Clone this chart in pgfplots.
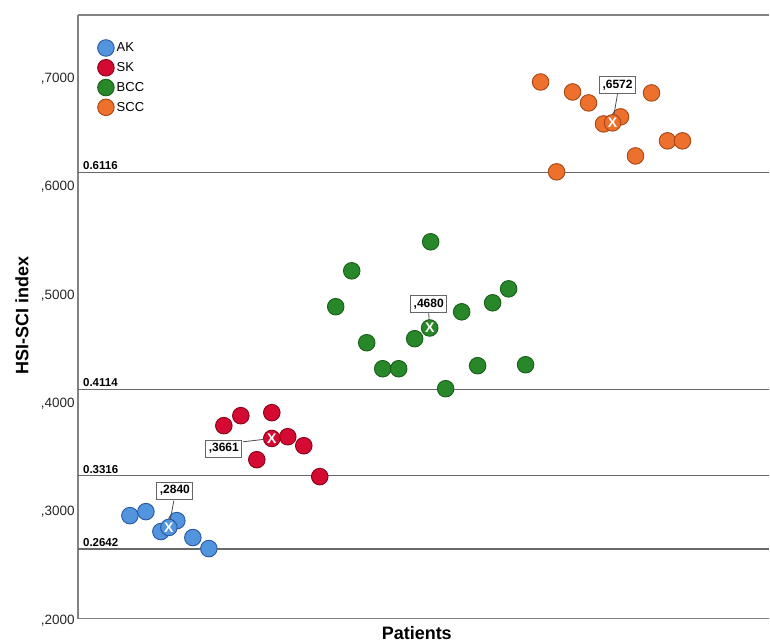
\documentclass[border=0pt]{standalone}
\usepackage{pgfplots}
\pgfplotsset{compat=1.18}
\usepackage{fontspec}
\setmainfont{Liberation Sans}
\definecolor{AKFill}{RGB}{82,148,222}
\definecolor{AKEdge}{RGB}{40,88,158}
\definecolor{SKFill}{RGB}{213,10,50}
\definecolor{SKEdge}{RGB}{135,0,25}
\definecolor{BCCFill}{RGB}{40,135,40}
\definecolor{BCCEdge}{RGB}{25,95,25}
\definecolor{SCCFill}{RGB}{237,112,45}
\definecolor{SCCEdge}{RGB}{165,70,20}
\definecolor{refline}{RGB}{105,105,105}
\definecolor{axline}{RGB}{130,130,130}
\pgfplotsset{
  grp/.style={only marks, mark=*, mark size=8.3pt,
    mark options={draw=#1Edge, fill=#1Fill, line width=0.9pt, solid},
    legend image code/.code={\draw[##1] plot coordinates {(0pt,0pt)};}},
}
\begin{document}
\begin{tikzpicture}
\begin{axis}[
  set layers,
  scale only axis, width=692pt, height=604pt,
  at={(0,0)}, anchor=south west,
  xmin=78, xmax=770, ymin=0.2, ymax=0.7567,
  axis x line=box, axis y line=left,
  axis line style={-, draw=axline, line width=1.2pt},
  xtick=\empty,
  ytick={0.2,0.3,0.4,0.5,0.6,0.7},
  yticklabels={{,2000},{,3000},{,4000},{,5000},{,6000},{,7000}},
  major tick length=0pt,
  yticklabel style={font=\fontsize{13.5}{16}\selectfont, inner sep=0pt, xshift=-3pt, yshift=-2pt, text=black!85},
  xlabel={Patients},
  ylabel={HSI-SCI index},
  xlabel style={at={(axis description cs:0.49,0)}, anchor=center, yshift=-14.5pt, font=\fontsize{18}{20}\selectfont\bfseries},
  ylabel style={at={(axis description cs:-0.0809,0.502)}, anchor=center, rotate=0, font=\fontsize{18}{20}\selectfont\bfseries},
  legend style={draw=none, fill=none, at={(axis description cs:0.0282,0.9594)}, anchor=north west,
    font=\fontsize{13}{15}\selectfont, inner sep=0pt, row sep=3.2pt, column sep=0pt,
    nodes={inner sep=1pt, inner xsep=2.5pt}},
  legend cell align=left,
  clip=false,
]
% reference lines
\addplot[refline, line width=1.2pt, forget plot] coordinates {(78,0.6116) (770,0.6116)};
\addplot[refline, line width=1.2pt, forget plot] coordinates {(78,0.4114) (770,0.4114)};
\addplot[refline, line width=1.2pt, forget plot] coordinates {(78,0.3316) (770,0.3316)};
\addplot[refline, line width=1.2pt, forget plot] coordinates {(78,0.2642) (770,0.2642)};
\node[anchor=south west, inner sep=0pt, yshift=2.5pt, font=\fontsize{11.5}{13}\selectfont\bfseries] at (axis cs:83,0.6116) {0.6116};
\node[anchor=south west, inner sep=0pt, yshift=2.5pt, font=\fontsize{11.5}{13}\selectfont\bfseries] at (axis cs:83,0.4114) {0.4114};
\node[anchor=south west, inner sep=0pt, yshift=2.5pt, font=\fontsize{11.5}{13}\selectfont\bfseries] at (axis cs:83,0.3316) {0.3316};
\node[anchor=south west, inner sep=0pt, yshift=2.5pt, font=\fontsize{11.5}{13}\selectfont\bfseries] at (axis cs:83,0.2642) {0.2642};
% groups
\addplot[grp=AK] coordinates {(130,0.2949) (146,0.2986) (177,0.2903) (161,0.2802) (193,0.2747) (209,0.2645)};
\addlegendentry{AK}
\addplot[grp=SK] coordinates {(224,0.3779) (241,0.3871) (272,0.3899) (288,0.3677) (304,0.3594) (257,0.3465) (320,0.3309)};
\addlegendentry{SK}
\addplot[grp=BCC] coordinates {(336,0.4876) (352,0.5207) (367,0.4544) (383,0.4304) (399,0.4304) (415,0.4581) (431,0.5475) (446,0.4120) (462,0.4829) (478,0.4332) (493,0.4912) (509,0.5041) (526,0.4341)};
\addlegendentry{BCC}
\addplot[grp=SCC] coordinates {(541,0.6949) (557,0.6120) (573,0.6857) (589,0.6756) (604,0.6562) (621,0.6627) (636,0.6267) (652,0.6848) (668,0.6406) (683,0.6406)};
\addlegendentry{SCC}
% means
\addplot[grp=AK, forget plot] coordinates {(169,0.2840)};
\addplot[grp=SK, forget plot] coordinates {(272,0.3661)};
\addplot[grp=BCC, forget plot] coordinates {(430,0.4680)};
\addplot[grp=SCC, forget plot] coordinates {(613,0.6572)};
\begin{pgfonlayer}{axis foreground}
% connectors
\draw[black!70, line width=0.8pt, shorten >=8pt] (axis cs:174,0.3088) -- (axis cs:169,0.2840);
\draw[black!70, line width=0.8pt, shorten >=8pt] (axis cs:243,0.3630) -- (axis cs:272,0.3661);
\draw[black!70, line width=0.8pt, shorten >=8pt] (axis cs:429,0.4820) -- (axis cs:430,0.4680);
\draw[black!70, line width=0.8pt, shorten >=8pt] (axis cs:618,0.6839) -- (axis cs:613,0.6572);
\node[text=white, font=\fontsize{14}{14}\selectfont\bfseries, inner sep=0pt] at (axis cs:169,0.2840) {X};
\node[text=white, font=\fontsize{14}{14}\selectfont\bfseries, inner sep=0pt] at (axis cs:272,0.3661) {X};
\node[text=white, font=\fontsize{14}{14}\selectfont\bfseries, inner sep=0pt] at (axis cs:430,0.4680) {X};
\node[text=white, font=\fontsize{14}{14}\selectfont\bfseries, inner sep=0pt] at (axis cs:613,0.6572) {X};
% value boxes
\node[draw=black!60, fill=white, line width=0.8pt, inner xsep=3pt, inner ysep=3.5pt, font=\fontsize{12}{14}\selectfont\bfseries] at (axis cs:175,0.3180) {,2840};
\node[draw=black!60, fill=white, line width=0.8pt, inner xsep=3pt, inner ysep=3.5pt, font=\fontsize{12}{14}\selectfont\bfseries] at (axis cs:224,0.3567) {,3661};
\node[draw=black!60, fill=white, line width=0.8pt, inner xsep=3pt, inner ysep=3.5pt, font=\fontsize{12}{14}\selectfont\bfseries] at (axis cs:429,0.4903) {,4680};
\node[draw=black!60, fill=white, line width=0.8pt, inner xsep=3pt, inner ysep=3.5pt, font=\fontsize{12}{14}\selectfont\bfseries] at (axis cs:618,0.6922) {,6572};
\end{pgfonlayer}
\end{axis}
\path (-78pt,-22pt) rectangle (692pt,619pt);
\end{tikzpicture}
\end{document}
